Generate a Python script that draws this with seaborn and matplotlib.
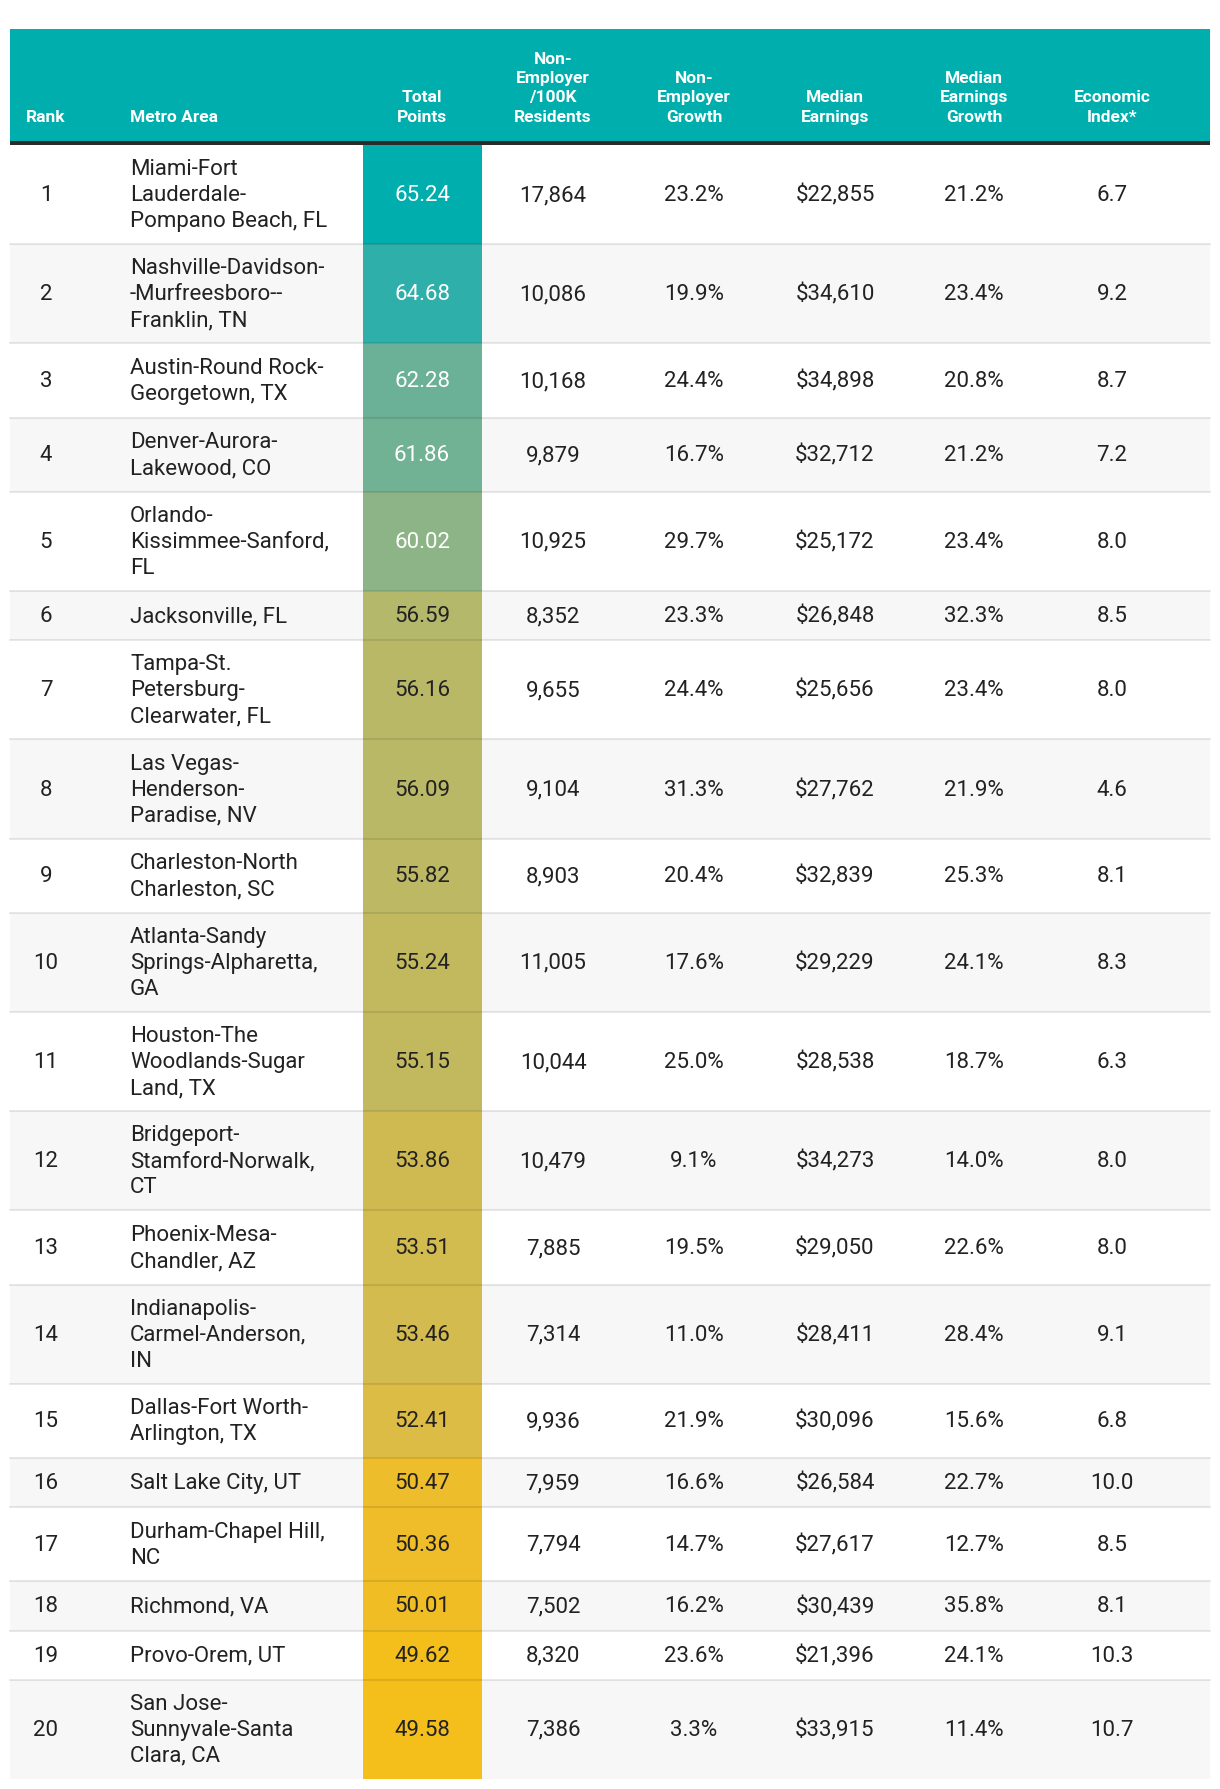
import numpy as np
import matplotlib
matplotlib.use("Agg")
import matplotlib.pyplot as plt
from matplotlib.colors import ListedColormap, Normalize
from matplotlib.patches import Rectangle
import seaborn as sns

# table data
ranks = list(range(1, 21))
metros = [
    "Miami-Fort\nLauderdale-\nPompano Beach, FL",
    "Nashville-Davidson-\n-Murfreesboro--\nFranklin, TN",
    "Austin-Round Rock-\nGeorgetown, TX",
    "Denver-Aurora-\nLakewood, CO",
    "Orlando-\nKissimmee-Sanford,\nFL",
    "Jacksonville, FL",
    "Tampa-St.\nPetersburg-\nClearwater, FL",
    "Las Vegas-\nHenderson-\nParadise, NV",
    "Charleston-North\nCharleston, SC",
    "Atlanta-Sandy\nSprings-Alpharetta,\nGA",
    "Houston-The\nWoodlands-Sugar\nLand, TX",
    "Bridgeport-\nStamford-Norwalk,\nCT",
    "Phoenix-Mesa-\nChandler, AZ",
    "Indianapolis-\nCarmel-Anderson,\nIN",
    "Dallas-Fort Worth-\nArlington, TX",
    "Salt Lake City, UT",
    "Durham-Chapel Hill,\nNC",
    "Richmond, VA",
    "Provo-Orem, UT",
    "San Jose-\nSunnyvale-Santa\nClara, CA",
]
total_points = [65.24, 64.68, 62.28, 61.86, 60.02, 56.59, 56.16, 56.09, 55.82, 55.24,
                55.15, 53.86, 53.51, 53.46, 52.41, 50.47, 50.36, 50.01, 49.62, 49.58]
nonemp_per_100k = [17864, 10086, 10168, 9879, 10925, 8352, 9655, 9104, 8903, 11005,
                   10044, 10479, 7885, 7314, 9936, 7959, 7794, 7502, 8320, 7386]
nonemp_growth = [23.2, 19.9, 24.4, 16.7, 29.7, 23.3, 24.4, 31.3, 20.4, 17.6,
                 25.0, 9.1, 19.5, 11.0, 21.9, 16.6, 14.7, 16.2, 23.6, 3.3]
median_earnings = [22855, 34610, 34898, 32712, 25172, 26848, 25656, 27762, 32839, 29229,
                   28538, 34273, 29050, 28411, 30096, 26584, 27617, 30439, 21396, 33915]
earnings_growth = [21.2, 23.4, 20.8, 21.2, 23.4, 32.3, 23.4, 21.9, 25.3, 24.1,
                   18.7, 14.0, 22.6, 28.4, 15.6, 22.7, 12.7, 35.8, 24.1, 11.4]
econ_index = [6.7, 9.2, 8.7, 7.2, 8.0, 8.5, 8.0, 4.6, 8.1, 8.3,
              6.3, 8.0, 8.0, 9.1, 6.8, 10.0, 8.5, 8.1, 10.3, 10.7]

headers = ["Rank", "Metro Area", "Total\nPoints", "Non-\nEmployer\n/100K\nResidents",
           "Non-\nEmployer\nGrowth", "Median\nEarnings", "Median\nEarnings\nGrowth",
           "Economic\nIndex*"]

TEAL = "#00AEAD"
YELLOW = "#F4BE1B"

sns.set_theme(style="white")
plt.rcParams["font.family"] = ["Roboto", "DejaVu Sans"]

# colour scale interpolated in Lab space, yellow (low) -> teal (high)
M = np.array([[0.4124, 0.3576, 0.1805], [0.2126, 0.7152, 0.0722], [0.0193, 0.1192, 0.9505]])
WHITE = np.array([0.95047, 1.0, 1.08883])


def to_lab(hexc):
    c = np.array(matplotlib.colors.to_rgb(hexc))
    c = np.where(c <= 0.04045, c / 12.92, ((c + 0.055) / 1.055) ** 2.4)
    xyz = M @ c / WHITE
    f = np.where(xyz > 216 / 24389, np.cbrt(xyz), (24389 / 27 * xyz + 16) / 116)
    return np.array([116 * f[1] - 16, 500 * (f[0] - f[1]), 200 * (f[1] - f[2])])


def from_lab(lab):
    L, a, b = lab
    fy = (L + 16) / 116
    f = np.array([fy + a / 500, fy, fy - b / 200])
    xyz = np.where(f ** 3 > 216 / 24389, f ** 3, (116 * f - 16) / (24389 / 27)) * WHITE
    c = np.clip(np.linalg.inv(M) @ xyz, 0, 1)
    c = np.where(c <= 0.0031308, 12.92 * c, 1.055 * c ** (1 / 2.4) - 0.055)
    return np.clip(c, 0, 1)


lab0, lab1 = to_lab(YELLOW), to_lab(TEAL)
cmap = ListedColormap([from_lab(lab0 + t * (lab1 - lab0)) for t in np.linspace(0, 1, 256)])
norm = Normalize(min(total_points), max(total_points))

fig = plt.figure(figsize=(12.2, 17.9), dpi=100)
ax = fig.add_axes([0, 0, 1, 1])
ax.set_xlim(0, 1220)
ax.set_ylim(1790, 0)
ax.axis("off")

left, right = 10, 1210
col_x = [46, 130, 422, 553, 694, 835, 974, 1112]
tp_left, tp_right = 363, 482

# header
ax.add_patch(Rectangle((left, 30), right - left, 112, color=TEAL, lw=0))
ax.add_patch(Rectangle((left, 142), right - left, 4, color="#2B2B2B", lw=0))
for j, h in enumerate(headers):
    ax.text(col_x[j], 124.5, h, ha="left" if j == 1 else "center", va="bottom",
            color="white", fontsize=12.5, fontweight="bold", linespacing=1.36)

n_lines = np.array([m.count("\n") + 1 for m in metros])
heights = 24.2 + 25 * n_lines
tops = 146 + np.concatenate([[0], np.cumsum(heights)[:-1]])

body = dict(fontsize=16, color="#222222", va="center", linespacing=1.31)
for i in range(len(ranks)):
    top, h = tops[i], heights[i]
    mid = top + h / 2
    if i % 2 == 1:
        ax.add_patch(Rectangle((left, top), right - left, h, color="#F7F7F7", lw=0))
    ax.add_patch(Rectangle((tp_left, top), tp_right - tp_left, h,
                           color=cmap(norm(total_points[i])), lw=0))
    if i < len(ranks) - 1:
        ax.plot([left, right], [top + h, top + h], color="black", alpha=0.09, lw=1.5)
    tp_color = "white" if total_points[i] >= 60 else "#222222"
    cells = [str(ranks[i]), metros[i], f"{total_points[i]:.2f}", f"{nonemp_per_100k[i]:,}",
             f"{nonemp_growth[i]:.1f}%", f"${median_earnings[i]:,}",
             f"{earnings_growth[i]:.1f}%", f"{econ_index[i]:.1f}"]
    for j, s in enumerate(cells):
        kw = dict(body)
        if j == 2:
            kw["color"] = tp_color
        ax.text(col_x[j], mid, s, ha="left" if j == 1 else "center", **kw)

fig.savefig("out.png", dpi=100, facecolor="white")
